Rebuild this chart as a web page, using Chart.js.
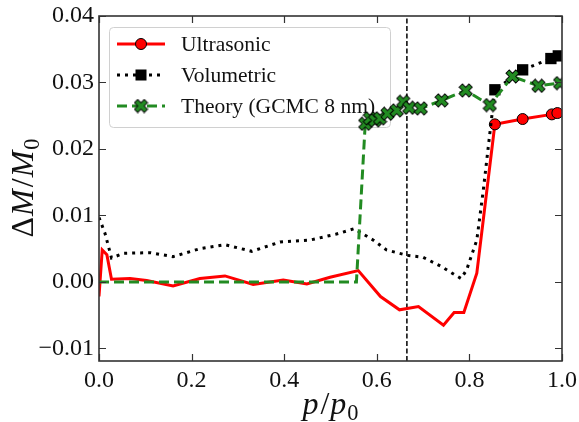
<!DOCTYPE html>
<html>
<head>
<meta charset="utf-8">
<script src="https://cdn.jsdelivr.net/npm/chart.js@4/dist/chart.umd.min.js"></script>
<style>
  html, body { margin: 0; padding: 0; background: #fff; }
  #wrap { width: 579px; height: 422px; }
</style>
</head>
<body>
<div id="wrap"><canvas id="adsorption-chart" width="579" height="422"></canvas></div>
<script>
// values
const ultraX = [0, 0.007, 0.017, 0.027, 0.067, 0.103, 0.16, 0.218, 0.272, 0.333, 0.398, 0.449, 0.499, 0.56, 0.608, 0.649, 0.69, 0.744, 0.767, 0.788, 0.816, 0.855, 0.915, 0.978, 0.99];
const ultraY = [-0.0022, 0.0048, 0.0041, 0.0004, 0.0005, 0.0002, -0.0006, 0.0005, 0.0009, -0.0004, 0.0003, -0.0003, 0.0007, 0.0017, -0.0022, -0.0042, -0.0037, -0.0065, -0.0046, -0.0046, 0.0013, 0.0237, 0.0245, 0.0252, 0.0254];

const volX = [0, 0.013, 0.027, 0.053, 0.11, 0.16, 0.218, 0.272, 0.33, 0.391, 0.456, 0.513, 0.551, 0.592, 0.621, 0.665, 0.70, 0.737, 0.782, 0.794, 0.816, 0.83, 0.855, 0.915, 0.976, 0.992];
const volY = [0.0097, 0.0073, 0.0036, 0.0043, 0.0044, 0.0038, 0.005, 0.0056, 0.0046, 0.006, 0.0063, 0.0072, 0.008, 0.0063, 0.0048, 0.004, 0.0037, 0.0024, 0.0005, 0.0018, 0.0063, 0.0138, 0.0289, 0.0319, 0.0336, 0.034];

const theoryX = [0, 0.556, 0.575, 0.585, 0.596, 0.607, 0.623, 0.643, 0.657, 0.67, 0.695, 0.74, 0.792, 0.844, 0.893, 0.949, 0.996];
const theoryY = [0, 0, 0.0238, 0.0246, 0.0243, 0.0246, 0.0253, 0.0258, 0.0271, 0.0262, 0.0261, 0.0273, 0.0288, 0.0266, 0.0309, 0.0295, 0.0299];

const seriesNames = ['Ultrasonic', 'Volumetric', 'Theory (GCMC 8 nm)'];
const markerFromX = [0.85, 0.85, 0.57]; // markers only drawn from here on
const vlineX = 0.665;

const xMin = 0, xMax = 1, xStep = 0.2;
const yMin = -0.0119, yMax = 0.04, yStep = 0.01;

const SERIF = "'Liberation Serif', 'DejaVu Serif', serif";
const GREEN = '#228b22';

function pts(xs, ys) {
  return xs.map(function (x, i) { return { x: x, y: ys[i] }; });
}

// filled "X" marker like matplotlib's
function makeXMarker(size) {
  const c = document.createElement('canvas');
  c.width = size; c.height = size;
  const g = c.getContext('2d');
  const w = 2.3, r = (size / 2 - 1) * Math.SQRT2 - w;
  g.translate(size / 2, size / 2);
  g.rotate(Math.PI / 4);
  g.beginPath();
  g.moveTo(w, -w); g.lineTo(r, -w); g.lineTo(r, w); g.lineTo(w, w);
  g.lineTo(w, r); g.lineTo(-w, r); g.lineTo(-w, w); g.lineTo(-r, w);
  g.lineTo(-r, -w); g.lineTo(-w, -w); g.lineTo(-w, -r); g.lineTo(w, -r);
  g.closePath();
  g.fillStyle = GREEN;
  g.fill();
  g.lineWidth = 1;
  g.strokeStyle = '#000';
  g.stroke();
  return c;
}
const xMarker = makeXMarker(15);

function fromX(limit, size) {
  return function (ctx) {
    const p = ctx.raw;
    return p && p.x >= limit ? size : 0;
  };
}

// inward ticks on all four sides + box spines
const frameTicks = {
  id: 'frameTicks',
  afterDraw: function (chart) {
    const ctx = chart.ctx, a = chart.chartArea;
    const xs = chart.scales.x, ys = chart.scales.y;
    const len = 7;
    ctx.save();
    ctx.strokeStyle = '#333';
    ctx.lineWidth = 1.2;
    ctx.beginPath();
    xs.ticks.forEach(function (t) {
      const px = Math.round(xs.getPixelForValue(t.value)) + 0.5;
      ctx.moveTo(px, a.bottom); ctx.lineTo(px, a.bottom - len);
      ctx.moveTo(px, a.top); ctx.lineTo(px, a.top + len);
    });
    ys.ticks.forEach(function (t) {
      const py = Math.round(ys.getPixelForValue(t.value)) + 0.5;
      ctx.moveTo(a.left, py); ctx.lineTo(a.left + len, py);
      ctx.moveTo(a.right, py); ctx.lineTo(a.right - len, py);
    });
    ctx.stroke();
    ctx.lineWidth = 1.6;
    ctx.strokeRect(a.left, a.top, a.right - a.left, a.bottom - a.top);
    ctx.restore();
  }
};

// axis titles with italic symbols and subscripts
function drawMath(ctx, parts, size) {
  let total = 0;
  parts.forEach(function (p) {
    ctx.font = (p.it ? 'italic ' : '') + (p.sub ? size * 0.7 : size) + 'px ' + SERIF;
    p.w = ctx.measureText(p.t).width;
    total += p.w + (p.gap || 0);
  });
  let x = -total / 2;
  parts.forEach(function (p) {
    ctx.font = (p.it ? 'italic ' : '') + (p.sub ? size * 0.7 : size) + 'px ' + SERIF;
    ctx.fillText(p.t, x, p.sub ? size * 0.2 : 0);
    x += p.w + (p.gap || 0);
  });
}

const axisTitles = {
  id: 'axisTitles',
  afterDraw: function (chart) {
    const ctx = chart.ctx, a = chart.chartArea;
    ctx.save();
    ctx.fillStyle = '#111';
    ctx.textBaseline = 'alphabetic';
    ctx.textAlign = 'left';
    ctx.save();
    ctx.translate((a.left + a.right) / 2, 414);
    drawMath(ctx, [{ t: 'p', it: true, gap: 2 }, { t: '/', gap: 1 }, { t: 'p', it: true, gap: 1 }, { t: '0', sub: true }], 32);
    ctx.restore();
    ctx.save();
    ctx.translate(33, 188);
    ctx.rotate(-Math.PI / 2);
    drawMath(ctx, [{ t: '\u0394', gap: 1 }, { t: 'M', it: true, gap: 2 }, { t: '/', gap: 1 }, { t: 'M', it: true, gap: 1 }, { t: '0', sub: true }], 32);
    ctx.restore();
    ctx.restore();
  }
};

// legend box with line + marker samples (drawn under the data markers)
const lineLegend = {
  id: 'lineLegend',
  beforeDatasetsDraw: function (chart) {
    const ctx = chart.ctx;
    const bx = 109.5, by = 27.5, bw = 281, bh = 100;
    ctx.save();
    ctx.fillStyle = 'rgba(255,255,255,0.8)';
    ctx.strokeStyle = '#d0d0d0';
    ctx.lineWidth = 1;
    ctx.beginPath();
    ctx.roundRect(bx, by, bw, bh, 4);
    ctx.fill();
    ctx.stroke();
    const rows = [44, 75, 106];
    for (let i = 0; i < 3; i++) {
      const ds = chart.data.datasets[i];
      const y = rows[i];
      ctx.save();
      ctx.strokeStyle = ds.borderColor;
      ctx.lineWidth = ds.borderWidth;
      ctx.setLineDash(ds.borderDash || []);
      ctx.beginPath();
      ctx.moveTo(117, y); ctx.lineTo(165, y);
      ctx.stroke();
      ctx.restore();
      const mx = 141;
      if (i === 0) {
        ctx.beginPath();
        ctx.arc(mx, y, 5.5, 0, Math.PI * 2);
        ctx.fillStyle = 'red'; ctx.fill();
        ctx.strokeStyle = '#000'; ctx.lineWidth = 1; ctx.stroke();
      } else if (i === 1) {
        ctx.fillStyle = '#000';
        ctx.fillRect(mx - 5.5, y - 5.5, 11, 11);
      } else {
        ctx.drawImage(xMarker, mx - 7.5, y - 7.5);
      }
      ctx.fillStyle = '#111';
      ctx.font = '21.5px ' + SERIF;
      ctx.textBaseline = 'middle';
      ctx.fillText(seriesNames[i], 181, y + 1);
    }
    ctx.restore();
  }
};

// keep tick-label overhang from shrinking the plot box
function noOverhang(scale) {
  scale.paddingTop = 0;
  scale.paddingBottom = 0;
  scale.paddingLeft = 0;
  scale.paddingRight = 0;
}

const canvas = document.getElementById('adsorption-chart');
new Chart(canvas.getContext('2d'), {
  type: 'line',
  data: {
    datasets: [
      {
        label: seriesNames[0],
        data: pts(ultraX, ultraY),
        borderColor: 'red',
        borderWidth: 3,
        pointStyle: 'circle',
        pointRadius: fromX(markerFromX[0], 5.5),
        pointBackgroundColor: 'red',
        pointBorderColor: '#000',
        pointBorderWidth: 1,
        order: 3
      },
      {
        label: seriesNames[1],
        data: pts(volX, volY),
        borderColor: '#000',
        borderWidth: 3,
        borderDash: [3, 5],
        pointStyle: 'rect',
        pointRadius: fromX(markerFromX[1], 8),
        pointBackgroundColor: '#000',
        pointBorderColor: '#000',
        pointBorderWidth: 0,
        order: 2
      },
      {
        label: seriesNames[2],
        data: pts(theoryX, theoryY),
        borderColor: GREEN,
        borderWidth: 3,
        borderDash: [10, 5],
        pointStyle: function (ctx) { return ctx.raw && ctx.raw.x >= markerFromX[2] ? xMarker : false; },
        pointRadius: fromX(markerFromX[2], 7),
        order: 1
      },
      {
        label: 'p/p0 marker',
        data: [{ x: vlineX, y: yMin }, { x: vlineX, y: yMax }],
        borderColor: '#000',
        borderWidth: 1.5,
        borderDash: [5, 2.5],
        pointRadius: 0,
        order: 4
      }
    ].map(function (d) { d.clip = 0; d.tension = 0; d.fill = false; return d; })
  },
  options: {
    responsive: false,
    animation: false,
    events: [],
    layout: { padding: { left: 0, top: 16, right: 17, bottom: 0 } },
    plugins: { legend: { display: false }, tooltip: { enabled: false } },
    scales: {
      x: {
        type: 'linear',
        min: xMin,
        max: xMax,
        grid: { display: false, drawTicks: false },
        border: { display: false },
        afterFit: function (scale) { scale.height = 61; noOverhang(scale); },
        ticks: {
          stepSize: xStep,
          padding: 5,
          color: '#111',
          font: { family: SERIF, size: 24 },
          maxRotation: 0,
          callback: function (v) { return Number(v).toFixed(1); }
        }
      },
      y: {
        type: 'linear',
        min: yMin,
        max: yMax,
        grid: { display: false, drawTicks: false },
        border: { display: false },
        afterFit: function (scale) { scale.width = 99; noOverhang(scale); },
        ticks: {
          stepSize: yStep,
          includeBounds: false,
          padding: 5,
          color: '#111',
          font: { family: SERIF, size: 24 },
          callback: function (v) {
            const s = (Math.abs(v) < 1e-9 ? 0 : v).toFixed(2);
            return s.replace('-', '\u2212');
          }
        }
      }
    }
  },
  plugins: [frameTicks, axisTitles, lineLegend]
});
</script>
</body>
</html>
